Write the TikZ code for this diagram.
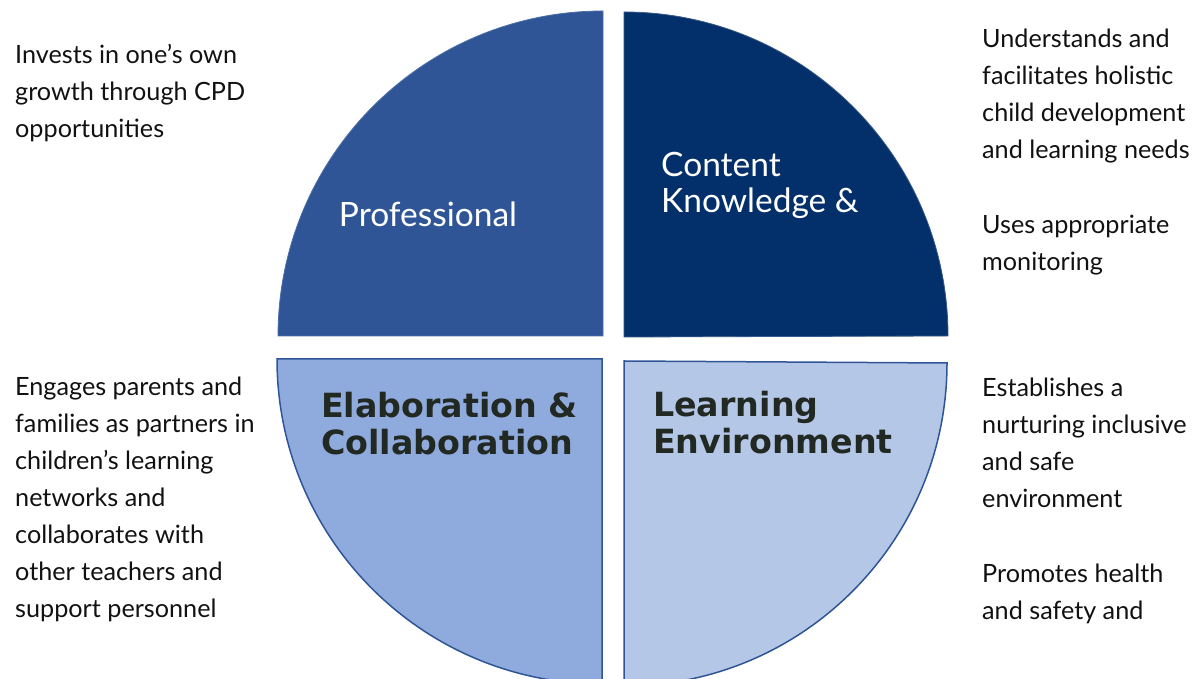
\documentclass[tikz,border=0pt]{standalone}
\usepackage{fontspec}
\setmainfont{Lato}
\newfontfamily\heavyfont{DejaVu Sans}
\definecolor{qTL}{HTML}{2F5597}
\definecolor{qTR}{HTML}{03306A}
\definecolor{qBL}{HTML}{8FAADC}
\definecolor{qBR}{HTML}{B4C7E7}
\definecolor{qEdge}{HTML}{2F5597}
\definecolor{bodytext}{HTML}{111111}
\definecolor{labeldark}{HTML}{222822}
\begin{document}
\begin{tikzpicture}[x=1pt,y=1pt,
  body/.style={inner sep=0pt, anchor=base west, align=left, text=bodytext,
    font=\fontsize{25.2}{37}\selectfont},
  whitelabel/.style={inner sep=0pt, text=white, align=left,
    font=\fontsize{33.5}{36}\selectfont},
  darklabel/.style={inner sep=0pt, anchor=base west, align=left, text=labeldark,
    font=\heavyfont\fontsize{33.3}{37}\selectfont\bfseries},
  quad/.style={line width=0.8pt}]
\useasboundingbox (0,0) rectangle (1193,679);
\clip (0,0) rectangle (1193,679);
% quadrants
\fill[qTL, draw=qTL!85!white, quad] (603,343) -- (278,343) arc[start angle=180, end angle=90, radius=325] -- cycle;
\fill[qTR, draw=qTR!80!white, quad] (624,342) -- (624,667) arc[start angle=90, end angle=0, radius=324] -- cycle;
\filldraw[fill=qBL, draw=qEdge, line width=1.5pt] (602,320) -- (277,320) arc[start angle=180, end angle=270, radius=325] -- cycle;
\filldraw[fill=qBR, draw=qEdge, line width=1.5pt] (624,318) -- (624,-7) arc[start angle=270, end angle=360, radius=323] -- cycle;
% quadrant labels (anchors on the last line's baseline)
\node[whitelabel, anchor=base] (prof) at (428,452) {Professional};
\node[whitelabel, anchor=base west] (ck) at (661,466) {Content\\Knowledge \&};
\node[darklabel] (ec) at (321,224) {Elaboration \&\\Collaboration};
\node[darklabel] (le) at (653,225) {Learning\\Environment};
% side texts (anchors on the last line's baseline)
\node[body] (tl) at (15,541) {Invests in one’s own\\growth through CPD\\opportunities};
\node[body] (tr1) at (982,520) {Understands and\\facilitates holistic\\child development\\and learning needs};
\node[body] (tr2) at (982,408) {Uses appropriate\\monitoring};
\node[body] (bl) at (15,61) {Engages parents and\\families as partners in\\children’s learning\\networks and\\collaborates with\\other teachers and\\support personnel};
\node[body] (br1) at (982,171) {Establishes a\\nurturing inclusive\\and safe\\environment};
\node[body] (br2) at (982,59) {Promotes health\\and safety and};
\end{tikzpicture}
\end{document}
